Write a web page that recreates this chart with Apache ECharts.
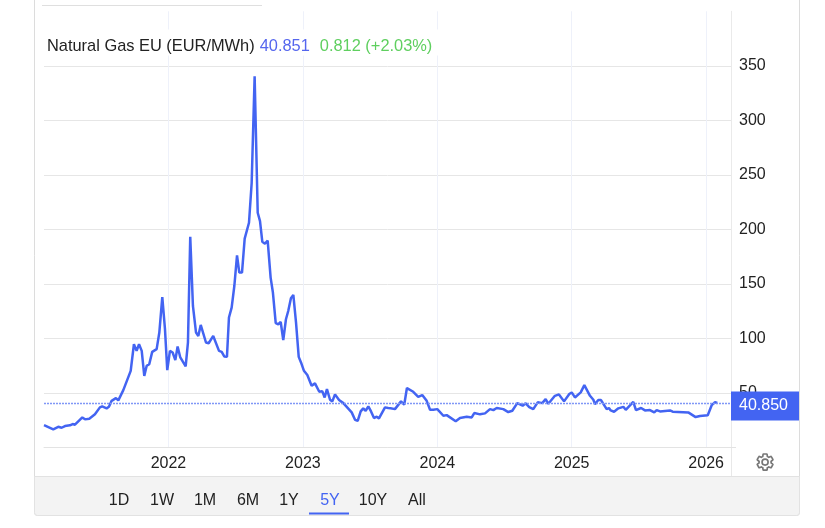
<!DOCTYPE html>
<html>
<head>
<meta charset="utf-8">
<style>
html, body { margin: 0; padding: 0; background: #fff; }
#main { width: 825px; height: 528px; }
</style>
<script src="https://cdn.jsdelivr.net/npm/echarts@6/dist/echarts.min.js"></script>
</head>
<body>
<div id="main"></div>
<script>
// decimal year of each reading, and price in EUR/MWh
const years = [
    2021.074, 2021.143, 2021.180, 2021.205, 2021.230, 2021.267, 2021.287, 2021.304, 2021.329, 2021.359,
    2021.379, 2021.411, 2021.453, 2021.490, 2021.507, 2021.540, 2021.557, 2021.577, 2021.609, 2021.627,
    2021.664, 2021.719, 2021.743, 2021.763, 2021.781, 2021.801, 2021.820, 2021.838, 2021.857, 2021.879,
    2021.912, 2021.932, 2021.954, 2021.974, 2021.991, 2022.011, 2022.031, 2022.051, 2022.068, 2022.088,
    2022.128, 2022.145, 2022.162, 2022.182, 2022.205, 2022.222, 2022.240, 2022.279, 2022.299, 2022.333,
    2022.346, 2022.376, 2022.396, 2022.415, 2022.435, 2022.450, 2022.470, 2022.490, 2022.510, 2022.527,
    2022.547, 2022.567, 2022.599, 2022.619, 2022.641, 2022.664, 2022.681, 2022.698, 2022.718, 2022.738,
    2022.760, 2022.777, 2022.798, 2022.817, 2022.835, 2022.854, 2022.874, 2022.891, 2022.911, 2022.929,
    2022.949, 2022.969, 2022.986, 2023.008, 2023.033, 2023.045, 2023.065, 2023.090, 2023.122, 2023.144,
    2023.162, 2023.179, 2023.202, 2023.219, 2023.239, 2023.269, 2023.301, 2023.363, 2023.388, 2023.408,
    2023.430, 2023.449, 2023.467, 2023.487, 2023.507, 2023.529, 2023.549, 2023.566, 2023.611, 2023.635,
    2023.653, 2023.685, 2023.730, 2023.754, 2023.774, 2023.821, 2023.858, 2023.888, 2023.921, 2023.946,
    2023.970, 2024.000, 2024.045, 2024.070, 2024.137, 2024.169, 2024.219, 2024.256, 2024.275, 2024.318,
    2024.355, 2024.392, 2024.417, 2024.442, 2024.491, 2024.528, 2024.558, 2024.595, 2024.635, 2024.658,
    2024.684, 2024.714, 2024.747, 2024.781, 2024.806, 2024.826, 2024.875, 2024.905, 2024.943, 2024.982,
    2025.000, 2025.024, 2025.067, 2025.094, 2025.136, 2025.161, 2025.173, 2025.198, 2025.218, 2025.260,
    2025.277, 2025.290, 2025.315, 2025.347, 2025.384, 2025.402, 2025.458, 2025.478, 2025.516, 2025.545,
    2025.582, 2025.614, 2025.632, 2025.657, 2025.731, 2025.751, 2025.867, 2025.922, 2025.954, 2026.012,
    2026.042, 2026.066, 2026.083
];
const prices = [
    20.6, 16.7, 19.0, 18.1, 19.7, 20.3, 21.5, 20.9, 24.0, 27.6,
    25.8, 26.4, 30.4, 36.8, 37.7, 35.9, 37.3, 42.8, 45.3, 43.2,
    52.6, 70.3, 94.7, 88.6, 94.7, 88.6, 65.7, 74.9, 76.4, 87.7,
    90.2, 105.4, 138.0, 108.5, 70.9, 88.6, 87.1, 80.1, 92.6, 82.6,
    74.3, 96.3, 193.3, 129.8, 105.4, 102.3, 112.4, 96.3, 95.6, 102.3,
    100.9, 88.6, 87.7, 83.5, 83.1, 119.2, 128.3, 148.1, 176.2, 160.4,
    160.4, 191.5, 206.1, 242.7, 340.3, 215.3, 207.6, 188.7, 186.9, 189.7,
    155.8, 142.1, 114.0, 113.0, 115.1, 98.4, 117.6, 125.2, 136.8, 139.9,
    114.6, 83.1, 78.0, 70.3, 66.4, 67.3, 56.6, 58.8, 51.1, 51.7,
    45.9, 53.5, 43.8, 42.3, 48.7, 43.5, 40.7, 32.2, 25.4, 24.5,
    33.1, 35.9, 33.7, 37.7, 33.1, 27.0, 28.2, 26.7, 36.8, 36.2,
    35.9, 35.2, 42.3, 39.2, 54.5, 51.1, 46.5, 48.1, 42.8, 34.6,
    34.6, 35.2, 29.1, 29.7, 24.0, 27.0, 28.2, 27.6, 31.6, 30.4,
    31.3, 35.2, 34.3, 36.2, 35.2, 32.5, 33.7, 40.7, 38.3, 40.5,
    37.1, 35.2, 41.4, 40.7, 44.4, 40.1, 47.4, 48.7, 42.3, 49.0,
    50.5, 45.9, 50.5, 57.2, 47.4, 43.8, 39.8, 43.5, 43.5, 35.2,
    36.2, 34.0, 32.8, 35.9, 37.3, 34.6, 41.9, 34.3, 36.2, 34.0,
    34.3, 32.2, 34.3, 33.1, 34.0, 32.8, 32.2, 27.9, 28.8, 29.5,
    38.9, 41.6, 40.85
];
const yearTicks = [2022, 2023, 2024, 2025, 2026];
const priceTicks = [50, 100, 150, 200, 250, 300, 350];
const ranges = ['1D', '1W', '1M', '6M', '1Y', '5Y', '10Y', 'All'];
const rangeX = [119, 162, 205, 248, 289, 330, 373, 417];
const activeRange = '5Y';

const blue = '#4364f2';
const fontName = '"Liberation Sans", Arial, sans-serif';

// settings icon, the graphic component has no plain path type
const gearPath = 'M19.14,12.94c0.04-0.3,0.06-0.61,0.06-0.94c0-0.32-0.02-0.64-0.07-0.94l2.03-1.58c0.18-0.14,0.23-0.41,0.12-0.61l-1.92-3.32c-0.12-0.22-0.37-0.29-0.59-0.22l-2.39,0.96c-0.5-0.38-1.03-0.7-1.62-0.94L14.4,2.81c-0.04-0.24-0.24-0.41-0.48-0.41h-3.84c-0.24,0-0.43,0.17-0.47,0.41L9.25,5.35C8.66,5.59,8.12,5.92,7.63,6.29L5.24,5.33c-0.22-0.08-0.47,0-0.59,0.22L2.74,8.87C2.62,9.08,2.66,9.34,2.86,9.48l2.03,1.58C4.84,11.36,4.8,11.69,4.8,12s0.02,0.64,0.07,0.94l-2.03,1.58c-0.18,0.14-0.23,0.41-0.12,0.61l1.92,3.32c0.12,0.22,0.37,0.29,0.59,0.22l2.39-0.96c0.5,0.38,1.03,0.7,1.62,0.94l0.36,2.54c0.05,0.24,0.24,0.41,0.48,0.41h3.84c0.24,0,0.44-0.17,0.47-0.41l0.36-2.54c0.59-0.24,1.13-0.56,1.62-0.94l2.39,0.96c0.22,0.08,0.47,0,0.59-0.22l1.92-3.32c0.12-0.22,0.07-0.47-0.12-0.61L19.14,12.94z M12,15.6c-1.98,0-3.6-1.62-3.6-3.6s1.62-3.6,3.6-3.6s3.6,1.62,3.6,3.6S13.98,15.6,12,15.6z';
echarts.graphic.registerShape('gear', echarts.graphic.extendPath(gearPath, {}));

var graphics = [
    { type: 'rect', z: 0, shape: { x: 34.5, y: -10, width: 765, height: 525.5, r: 3 }, style: { fill: '#fff', stroke: '#dcdcdc', lineWidth: 1 } },
    { type: 'rect', z: 1, shape: { x: 34.5, y: 476.5, width: 765, height: 39, r: [0, 0, 3, 3] }, style: { fill: '#f3f3f3', stroke: '#e2e2e2', lineWidth: 1 } },
    { type: 'line', z: 1, shape: { x1: 42, y1: 5.5, x2: 262, y2: 5.5 }, style: { stroke: '#dfdfdf', lineWidth: 1 } },
    { type: 'line', z: 1, shape: { x1: 731.5, y1: 448, x2: 731.5, y2: 476 }, style: { stroke: '#e8e8e8', lineWidth: 1 } },
    { type: 'line', z: 1, shape: { x1: 731, y1: 447.5, x2: 736, y2: 447.5 }, style: { stroke: '#e3e3e3', lineWidth: 1 } },
    { type: 'gear', z: 5, x: 755, y: 452, scaleX: 0.84, scaleY: 0.84, style: { fill: 'none', stroke: '#777', lineWidth: 2 } }
];

for (var i = 0; i < ranges.length; i++) {
    graphics.push({
        type: 'text', z: 5, x: rangeX[i], y: 500.5,
        style: {
            text: ranges[i], font: '16px ' + fontName, textAlign: 'center', textVerticalAlign: 'middle',
            fill: ranges[i] === activeRange ? blue : '#222'
        }
    });
}
graphics.push({ type: 'rect', z: 5, shape: { x: 309, y: 512.5, width: 40, height: 2 }, style: { fill: blue } });

var myChart = echarts.init(document.getElementById('main'));
var option = {
    backgroundColor: '#fff',
    animation: false,
    textStyle: { fontFamily: fontName },
    graphic: graphics,
    title: {
        left: 44,
        top: 27,
        padding: [8, 6, 0, 3],
        backgroundColor: '#fff',
        text: '{a|Natural Gas EU (EUR/MWh)} {b|40.851}  {c|0.812 (+2.03%)}',
        textStyle: {
            fontWeight: 'normal',
            rich: {
                a: { fontSize: 16.4, fontWeight: 'normal', color: '#222', fontFamily: fontName, lineHeight: 23 },
                b: { fontSize: 16.4, fontWeight: 'normal', color: '#5566ee', fontFamily: fontName, lineHeight: 23 },
                c: { fontSize: 16.4, fontWeight: 'normal', color: '#5fcf5f', fontFamily: fontName, lineHeight: 23 }
            }
        }
    },
    grid: { left: 44, right: 94, top: 11.3, bottom: 80.5 },
    xAxis: {
        type: 'value',
        min: years[0],
        max: 2026.185,
        axisLine: { show: true, lineStyle: { color: '#e3e3e3', width: 1 } },
        axisTick: { show: false, customValues: yearTicks },
        axisLabel: {
            customValues: yearTicks,
            formatter: function (v) { return String(Math.round(v)); },
            fontSize: 16, color: '#222', margin: 8, fontFamily: fontName
        },
        splitLine: { show: true, lineStyle: { color: '#eef1fa', width: 1 } }
    },
    yAxis: {
        type: 'value',
        position: 'right',
        min: 0,
        max: 400,
        interval: 50,
        axisLine: { show: true, lineStyle: { color: '#eaeaea', width: 1 } },
        axisTick: { show: false },
        axisLabel: {
            customValues: priceTicks,
            fontSize: 16, color: '#222', margin: 8, fontFamily: fontName
        },
        splitLine: { show: true, showMaxLine: false, lineStyle: { color: '#e6e6e6', width: 1 } }
    },
    series: [{
        type: 'line',
        data: years.map(function (y, i) { return [y, prices[i]]; }),
        symbol: 'none',
        lineStyle: { color: blue, width: 2.5 },
        markLine: {
            silent: true,
            symbol: 'none',
            animation: false,
            lineStyle: { color: '#8097f6', type: [2, 1], width: 1.3 },
            label: {
                position: 'end',
                distance: 0,
                offset: [0, 3],
                formatter: '40.850',
                color: '#fff',
                fontSize: 16,
                fontFamily: fontName,
                backgroundColor: blue,
                padding: [7, 8, 6, 8],
                width: 52,
                align: 'left'
            },
            data: [{ yAxis: 40.85 }]
        }
    }]
};

myChart.setOption(option);
</script>
</body>
</html>
